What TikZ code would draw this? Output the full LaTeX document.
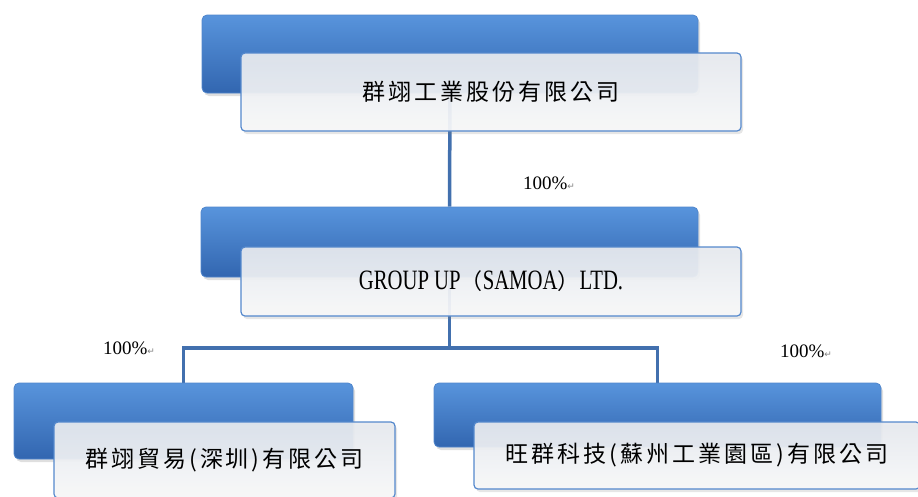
\documentclass[tikz,border=0pt]{standalone}
\usepackage{fontspec}
\setmainfont{Liberation Serif}
\newfontfamily\cjk[LetterSpace=13]{Noto Sans CJK TC}
\newfontfamily\cjkplain{Noto Sans CJK TC}
\newfontfamily\narrow[FakeStretch=0.74]{Liberation Serif}
\newfontfamily\sym{DejaVu Sans}
\usetikzlibrary{shadows,backgrounds}

\definecolor{bluetop}{RGB}{88,148,220}
\definecolor{bluemid}{RGB}{58,116,192}
\definecolor{bluebot}{RGB}{50,102,176}
\definecolor{blueedge}{RGB}{80,134,204}
\definecolor{frameblue}{RGB}{84,136,204}
\definecolor{fronttop}{RGB}{231,234,239}
\definecolor{frontbot}{RGB}{248,249,250}
\definecolor{lineblue}{RGB}{66,112,174}

\newcommand{\retmark}{{\sym\fontsize{9}{9}\selectfont\color{gray}↵}}

\begin{document}
\begin{tikzpicture}[x=1pt, y=-1pt,
	back/.style={rounded corners=5pt, draw=blueedge, line width=0.8pt, inner sep=0pt,
		top color=bluetop, middle color=bluemid, bottom color=bluebot,
		drop shadow={opacity=0.25, shadow xshift=2pt, shadow yshift=-3pt}},
	front/.style={rounded corners=4pt, draw=frameblue, line width=1.2pt, inner sep=0pt,
		top color=fronttop, bottom color=frontbot, fill opacity=0.93, text opacity=1,
		drop shadow={opacity=0.2, shadow xshift=2pt, shadow yshift=-3pt},
		font=\cjk\fontsize{23}{27}\selectfont},
	link/.style={draw=lineblue, line width=3.5pt},
	pct/.style={font=\fontsize{19}{22}\selectfont}
]
	\useasboundingbox (0,0) rectangle (918,496);

	\node[back, minimum width=496pt, minimum height=78pt] (topb) at (450,54) {};
	\node[front, minimum width=500pt, minimum height=78pt] (topf) at (491,92) {群翊工業股份有限公司};

	\node[back, minimum width=497pt, minimum height=70pt] (midb) at (449.5,242) {};
	\node[front, minimum width=500pt, minimum height=69pt, font=\narrow\fontsize{28}{31}\selectfont] (midf) at (491,281.5)
		{GROUP UP{\cjkplain\fontsize{22}{26}\selectfont （}SAMOA{\cjkplain\fontsize{22}{26}\selectfont ）}LTD.};

	\node[back, minimum width=339pt, minimum height=76pt] (leftb) at (183.5,421) {};
	\node[front, minimum width=341pt, minimum height=76pt] (leftf) at (224.5,460) {群翊貿易(深圳)有限公司};

	\node[back, minimum width=447pt, minimum height=64pt] (rightb) at (657.5,415) {};
	\node[front, minimum width=446pt, minimum height=67pt] (rightf) at (697,455.5) {旺群科技(蘇州工業園區)有限公司};

	\coordinate (bus) at (451,348);

	\begin{scope}[on background layer]
		\draw[link] (topb) -- (midb);
		\draw[link] (midb) -- (midb |- bus) -| (leftb);
		\draw[link] (midb |- bus) -| (rightb);
	\end{scope}

	\node[pct] (pcttop) at (549,183) {100\%\retmark};
	\node[pct] (pctleft) at (129,348) {100\%\retmark};
	\node[pct] (pctright) at (806,351) {100\%\retmark};
\end{tikzpicture}
\end{document}
